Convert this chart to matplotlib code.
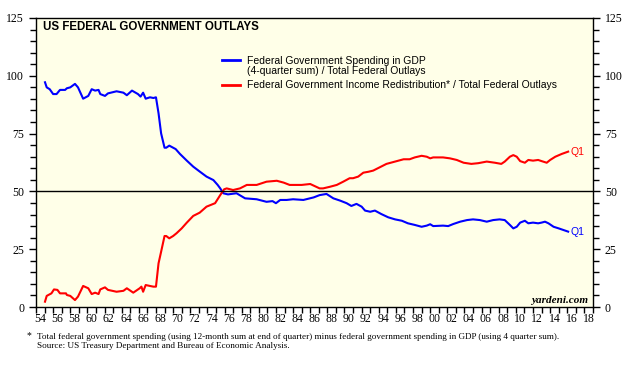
import matplotlib
matplotlib.use("Agg")
import matplotlib.pyplot as plt
from matplotlib.ticker import MultipleLocator, FixedLocator, NullFormatter

# Data (year fraction, percent)
blue_years = [1955.05, 1955.25, 1955.6, 1956.0, 1956.4, 1956.8, 1957.4, 1957.6, 1958.0, 1958.55,
              1958.9, 1959.5, 1960.1, 1960.5, 1960.9, 1961.3, 1961.5, 1962.05, 1962.4, 1963.4,
              1964.2, 1964.6, 1965.2, 1965.9, 1966.2, 1966.5, 1966.8, 1967.3, 1967.7, 1968.0,
              1968.3, 1968.6, 1969.0, 1969.2, 1969.55, 1970.0, 1970.3, 1970.8, 1971.6, 1972.35,
              1973.1, 1973.9, 1974.7, 1975.2, 1975.5, 1975.85, 1976.4, 1977.4, 1978.4, 1979.75,
              1980.9, 1981.6, 1982.0, 1982.5, 1983.25, 1984.0, 1985.2, 1986.4, 1987.1, 1987.9,
              1988.7, 1989.5, 1990.25, 1990.8, 1991.4, 1992.0, 1992.4, 1993.0, 1993.55, 1994.3,
              1995.1, 1995.9, 1996.7, 1997.4, 1998.2, 1999.0, 1999.6, 2000.0, 2000.35, 2001.5,
              2002.1, 2002.7, 2003.5, 2004.3, 2005.0, 2005.8, 2006.6, 2007.35, 2008.1, 2008.7,
              2009.3, 2009.7, 2010.1, 2010.5, 2011.05, 2011.45, 2012.0, 2012.6, 2013.0, 2013.4,
              2013.8, 2014.4, 2015.0, 2015.55, 2016.1]
blue_vals = [97.2, 95.0, 94.2, 92.1, 92.1, 93.9, 93.9, 94.6, 95.0, 96.5,
             95.0, 90.1, 91.3, 94.2, 93.6, 93.9, 92.1, 91.3, 92.4, 93.3,
             92.7, 91.6, 93.6, 92.1, 91.0, 92.7, 90.1, 90.7, 90.4, 90.7,
             83.8, 75.1, 68.9, 68.9, 69.8, 68.9, 68.3, 66.2, 63.3, 60.7,
             58.6, 56.4, 54.9, 52.8, 51.3, 49.2, 48.7, 49.2, 47.0, 46.6,
             45.5, 45.8, 44.9, 46.3, 46.3, 46.6, 46.3, 47.4, 48.4, 48.9,
             47.0, 46.0, 44.9, 43.7, 44.6, 43.4, 41.7, 41.2, 41.7, 40.2,
             38.8, 37.9, 37.3, 36.2, 35.5, 34.7, 35.2, 35.8, 35.0, 35.2,
             35.0, 35.9, 36.9, 37.6, 37.9, 37.6, 36.9, 37.6, 37.9, 37.6,
             35.5, 34.0, 34.7, 36.5, 37.3, 36.2, 36.5, 36.2, 36.5, 36.9,
             36.2, 34.7, 34.0, 33.3, 32.6]

red_years = [1955.05, 1955.25, 1955.6, 1955.8, 1956.1, 1956.5, 1956.8, 1957.5, 1957.6, 1958.0,
             1958.55, 1958.9, 1959.5, 1960.1, 1960.5, 1960.9, 1961.3, 1961.5, 1962.05, 1962.4,
             1963.4, 1964.2, 1964.6, 1965.35, 1966.1, 1966.3, 1966.5, 1966.8, 1967.3, 1967.7,
             1968.0, 1968.3, 1968.6, 1969.0, 1969.2, 1969.55, 1970.0, 1970.4, 1971.0, 1971.6,
             1972.35, 1973.1, 1973.9, 1974.9, 1975.5, 1975.95, 1976.25, 1977.0, 1977.8, 1978.6,
             1979.75, 1980.9, 1982.1, 1982.9, 1983.6, 1985.0, 1986.0, 1987.1, 1987.5, 1988.3,
             1989.1, 1989.85, 1990.6, 1991.0, 1991.6, 1992.2, 1992.8, 1993.35, 1994.1, 1994.9,
             1995.9, 1996.9, 1997.6, 1998.2, 1999.0, 1999.6, 2000.0, 2000.35, 2001.5, 2002.3,
             2003.1, 2003.9, 2004.8, 2005.6, 2006.6, 2007.55, 2008.3, 2008.7, 2009.3, 2009.7,
             2010.1, 2010.5, 2011.05, 2011.45, 2012.0, 2012.6, 2013.0, 2013.6, 2014.0, 2014.6,
             2015.35, 2016.1]
red_vals = [2.3, 4.8, 5.5, 5.9, 7.6, 7.4, 5.9, 5.9, 5.2, 4.8,
            3.0, 4.5, 9.1, 8.1, 5.6, 6.2, 5.6, 7.6, 8.5, 7.4,
            6.6, 7.0, 8.1, 6.2, 8.1, 8.8, 6.6, 9.5, 9.1, 8.8,
            8.8, 18.9, 23.9, 30.7, 30.7, 29.7, 30.7, 31.9, 34.0, 36.5,
            39.4, 40.8, 43.4, 44.9, 48.4, 50.9, 51.3, 50.6, 51.3, 52.8,
            52.8, 54.2, 54.6, 53.8, 52.8, 52.8, 53.2, 51.3, 51.3, 52.0,
            52.8, 54.2, 55.7, 55.7, 56.4, 58.1, 58.5, 59.0, 60.4, 61.9,
            62.9, 63.9, 63.9, 64.7, 65.4, 65.0, 64.3, 64.7, 64.7, 64.3,
            63.6, 62.4, 61.9, 62.2, 62.9, 62.4, 61.9, 62.9, 65.0, 65.7,
            65.0, 63.1, 62.4, 63.6, 63.3, 63.6, 63.1, 62.4, 63.6, 65.0,
            66.2, 67.2]

year_labels = ["54", "56", "58", "60", "62", "64", "66", "68", "70", "72", "74", "76", "78", "80",
               "82", "84", "86", "88", "90", "92", "94", "96", "98", "00", "02", "04", "06", "08",
               "10", "12", "14", "16", "18"]
label_years = [1954 + 2 * i for i in range(len(year_labels))]

serif = "Liberation Serif"
sans = "Liberation Sans"
W, H = 639, 366


def fx(px):
    return px / W


def fy(py):
    return 1 - py / H


fig = plt.figure(figsize=(6.39, 3.66), dpi=100)
ax = fig.add_axes([36 / W, 59 / H, 557 / W, 289 / H])
ax.set_facecolor("#FFFFE8")

ax.plot(blue_years, blue_vals, color="#0000FF", lw=1.5)
ax.plot(red_years, red_vals, color="#FF0000", lw=1.5)
ax.axhline(50, color="black", lw=1)

ax.set_xlim(1954, 2019)
ax.set_ylim(0, 125)

# x axis: ticks at every year, labels centred in the middle of the even years
ax.xaxis.set_major_locator(MultipleLocator(1))
ax.xaxis.set_major_formatter(NullFormatter())
ax.xaxis.set_minor_locator(FixedLocator([y + 0.5 for y in label_years]))
ax.set_xticklabels(year_labels, minor=True)
ax.tick_params(axis="x", which="major", direction="out", length=4, width=1)
ax.tick_params(axis="x", which="minor", length=0, pad=4, labelsize=8.5)

ax.yaxis.set_major_locator(MultipleLocator(25))
ax.yaxis.set_minor_locator(MultipleLocator(5))
ax.tick_params(axis="y", which="both", direction="out", left=True, right=True,
               labelleft=True, labelright=True, labelsize=8.5, width=1)
ax.tick_params(axis="y", which="major", length=5)
ax.tick_params(axis="y", which="minor", length=4)

for lab in ax.get_xticklabels(minor=True):
    lab.set_fontfamily(serif)
for t in ax.yaxis.get_major_ticks():
    t.label1.set_fontfamily(serif)
    t.label2.set_fontfamily(serif)

for sp in ax.spines.values():
    sp.set_linewidth(1)
    sp.set_color("black")

# title inside the plot
fig.text(fx(43), fy(27), "US FEDERAL GOVERNMENT OUTLAYS", fontsize=8.3, fontweight="bold",
         family=sans, va="center", ha="left")

# legend drawn by hand in figure pixels
fig.add_artist(plt.Line2D([fx(222), fx(240)], [fy(60), fy(60)], color="#0000FF", lw=2))
fig.add_artist(plt.Line2D([fx(222), fx(240)], [fy(84.7), fy(84.7)], color="#FF0000", lw=2))
fig.text(fx(247), fy(61), "Federal Government Spending in GDP", fontsize=7.5, family=sans, va="center")
fig.text(fx(247), fy(71), "(4-quarter sum) / Total Federal Outlays", fontsize=7.5, family=sans, va="center")
fig.text(fx(247), fy(85), "Federal Government Income Redistribution* / Total Federal Outlays",
         fontsize=7.5, family=sans, va="center")

# Q1 end labels
ax.text(2016.4, blue_vals[-1], "Q1", color="#0000FF", fontsize=7.5, family=sans, va="center")
ax.text(2016.4, red_vals[-1], "Q1", color="#FF0000", fontsize=7.5, family=sans, va="center")

fig.text(fx(588), fy(300.5), "yardeni.com", fontsize=8, family=serif, style="italic",
         fontweight="bold", ha="right", va="center")

fig.text(fx(27), fy(336), "*", fontsize=7, family=serif, va="center")
fig.text(fx(37), fy(337),
         "Total federal government spending (using 12-month sum at end of quarter) minus federal government spending in GDP (using 4 quarter sum).",
         fontsize=6.6, family=serif, va="center")
fig.text(fx(37), fy(345.5), "Source: US Treasury Department and Bureau of Economic Analysis.",
         fontsize=6.6, family=serif, va="center")

fig.savefig("out.png", dpi=100)
